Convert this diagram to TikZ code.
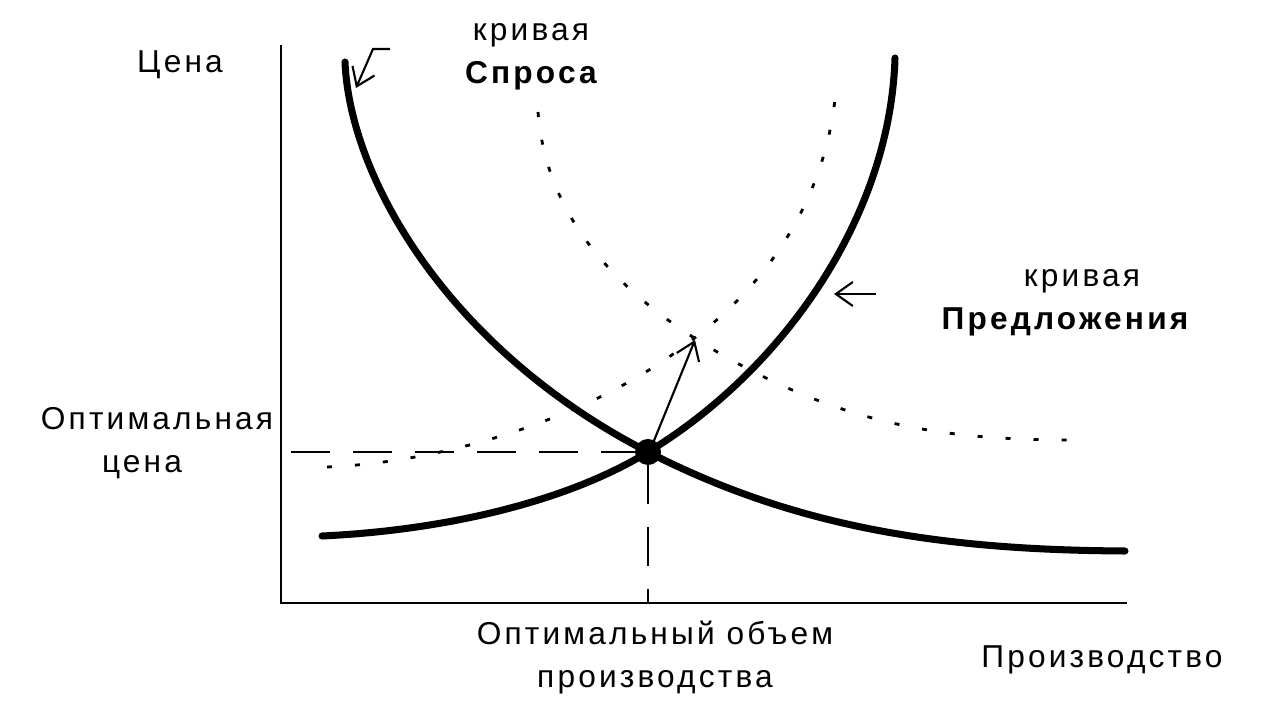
\documentclass[tikz,border=0pt]{standalone}
\usepackage{fontspec}
\usepackage{tikz}
\usetikzlibrary{arrows.meta}
\newfontfamily\lbl{Liberation Sans}[LetterSpace=10]
\tikzset{curve/.style={line width=2pt,line cap=round},
  shifted/.style={line width=0.8pt,dash pattern=on 0.05cm off 0.23cm},
  guide/.style={line width=0.7pt,dash pattern=on 0.39cm off 0.23cm},
  ptr/.style={line width=0.6pt,-{Straight Barb[length=1.7mm,width=2.4mm]}},
  txt/.style={anchor=base,inner sep=0pt,font=\lbl\fontsize{9pt}{10pt}\selectfont}}

\begin{document}
\begin{tikzpicture}[x=0.01cm,y=-0.01cm]
\useasboundingbox (0,0) rectangle (1276,728);
\coordinate (O) at (281,603); \coordinate (Ytop) at (281,45); \coordinate (Xend) at (1127,603);
\coordinate (E) at (648,452);
\coordinate (Ep) at (695,340);
\draw[line width=0.8pt] (Ytop)--(O)--(Xend);
% guide lines to the equilibrium
\draw[guide] (291,452)--(E);
\draw[guide] (648,465)--(648,603);
% shifted curves
\draw[shifted] (538,112) .. controls (548,240) and (650,320) .. (760,375) .. controls (880,435) and (980,440) .. (1082,440);
\draw[shifted] (327,467) .. controls (450,462) and (600,415) .. (697,336) .. controls (790,265) and (830,170) .. (836,88);
% demand and supply
\draw[curve] (345,62) .. controls (350,180) and (450,350) .. (E) .. controls (800,530) and (950,550) .. (1125,551);
\draw[curve] (322,536) .. controls (450,530) and (570,500) .. (E) .. controls (780,372) and (890,220) .. (895,58);
\fill (E) circle (0.13cm);
% pointers
\draw[ptr] (876,294)--(834,294);
\draw[ptr] (651,448)--(Ep);
\draw[ptr] (390,49)--(373,49)--(356,88);
% labels
\node[txt] (price) at (180,73) {Цена};
\node[txt] (dlab1) at (531,41) {кривая};
\node[txt] (dlab2) at (531,84) {\bfseries Спроса};
\node[txt] (slab1) at (1082,287) {кривая};
\node[txt] (slab2) at (1065,330) {\bfseries Предложения};
\node[txt] (op1) at (157,430) {Оптимальная};
\node[txt] (op2) at (142,473) {цена};
\node[txt] (oq1) at (655,645) {Оптимальный объем};
\node[txt] (oq2) at (655,687) {производства};
\node[txt] (qty) at (1102,667) {Производство};
\end{tikzpicture}
\end{document}
